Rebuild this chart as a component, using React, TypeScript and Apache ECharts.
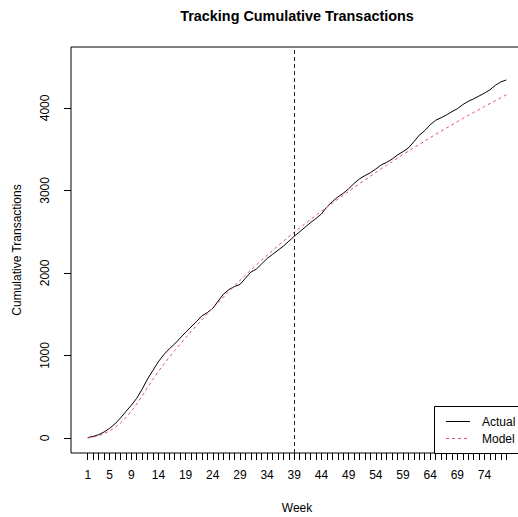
import React, { useEffect, useRef } from "react";
import * as echarts from "echarts";

const weeks: number[] = Array.from({ length: 78 }, (_, i) => i + 1);

const actualCum: number[] = [
  5, 18, 40, 72, 115, 170, 240, 320, 395, 480,
  590, 715, 820, 925, 1010, 1080, 1140, 1210, 1280, 1345,
  1410, 1480, 1520, 1570, 1660, 1745, 1800, 1835, 1860, 1935,
  2010, 2045, 2110, 2175, 2225, 2275, 2325, 2385, 2445, 2500,
  2555, 2610, 2660, 2715, 2800, 2865, 2920, 2965, 3020, 3085,
  3140, 3180, 3215, 3260, 3310, 3340, 3380, 3430, 3470, 3515,
  3590, 3670, 3725, 3795, 3850, 3880, 3915, 3955, 3990, 4040,
  4080, 4110, 4145, 4180, 4220, 4275, 4315, 4339,
];

const modelCum: number[] = [
  0, 10, 27, 52, 85, 127, 180, 245, 322, 410,
  508, 612, 712, 806, 894, 978, 1059, 1137, 1213, 1287,
  1360, 1432, 1503, 1573, 1642, 1710, 1777, 1843, 1908, 1972,
  2034, 2095, 2155, 2214, 2272, 2329, 2385, 2440, 2494, 2546,
  2597, 2648, 2698, 2748, 2797, 2846, 2894, 2942, 2989, 3036,
  3082, 3128, 3173, 3218, 3262, 3306, 3349, 3392, 3434, 3476,
  3517, 3558, 3599, 3639, 3679, 3718, 3757, 3795, 3833, 3871,
  3908, 3945, 3981, 4017, 4053, 4088, 4123, 4158,
];

const xLabelWeeks: number[] = [1, 5, 9, 14, 19, 24, 29, 34, 39, 44, 49, 54, 59, 64, 69, 74];
const yTickValues: number[] = [0, 1000, 2000, 3000, 4000];
const calibrationEndWeek = 39;

const FONT = "'Liberation Sans', Arial, Helvetica, sans-serif";

export default function App() {
  const ref = useRef<HTMLDivElement>(null);

  useEffect(() => {
    if (!ref.current) return;
    const chart = echarts.init(ref.current, null, { renderer: "svg" });
    const actualData = weeks.map((w, i) => [w, actualCum[i]]);
    const modelData = weeks.map((w, i) => [w, modelCum[i]]);
    chart.setOption({
      animation: false,
      backgroundColor: "#fff",
      textStyle: { fontFamily: FONT },
      grid: {
        show: true,
        left: 71,
        right: 7,
        top: 47,
        bottom: 64,
        borderColor: "#000",
        borderWidth: 1,
        backgroundColor: "transparent",
      },
      xAxis: {
        type: "value",
        min: -2.08,
        max: 81.08,
        axisLine: { show: false, onZero: false },
        splitLine: { show: false },
        axisTick: {
          show: true,
          length: 7,
          lineStyle: { color: "#000", width: 1 },
          customValues: weeks,
        },
        axisLabel: {
          show: true,
          color: "#000",
          fontSize: 12,
          fontFamily: FONT,
          margin: 16,
          customValues: xLabelWeeks,
          formatter: (v: number) => String(v),
        },
      },
      yAxis: {
        type: "value",
        min: -182.2,
        max: 4738.4,
        axisLine: { show: false, onZero: false },
        splitLine: { show: false },
        axisTick: {
          show: true,
          length: 7,
          lineStyle: { color: "#000", width: 1 },
          customValues: yTickValues,
        },
        axisLabel: {
          show: true,
          color: "#000",
          fontSize: 12,
          fontFamily: FONT,
          rotate: 90,
          margin: 20,
          customValues: yTickValues,
          formatter: (v: number) => String(v),
        },
      },
      series: [
        {
          name: "Actual",
          type: "line",
          data: actualData,
          showSymbol: false,
          symbol: "none",
          lineStyle: { color: "#000", width: 1 },
          markLine: {
            silent: true,
            symbol: ["none", "none"],
            label: { show: false },
            lineStyle: { color: "#222", width: 1, type: [4, 3] },
            data: [{ xAxis: calibrationEndWeek }],
          },
        },
        {
          name: "Model",
          type: "line",
          data: modelData,
          showSymbol: false,
          symbol: "none",
          lineStyle: { color: "#DF536B", width: 1, type: [3, 3] },
        },
      ],
      graphic: [
        {
          type: "text",
          x: 297,
          y: 16,
          style: {
            text: "Tracking Cumulative Transactions",
            fontSize: 14.4,
            fontWeight: "bold",
            fontFamily: FONT,
            fill: "#000",
            textAlign: "center",
            textVerticalAlign: "middle",
          },
        },
        {
          type: "text",
          x: 297,
          y: 508,
          style: {
            text: "Week",
            fontSize: 12,
            fontFamily: FONT,
            fill: "#000",
            textAlign: "center",
            textVerticalAlign: "middle",
          },
        },
        {
          type: "text",
          x: 17,
          y: 250,
          rotation: Math.PI / 2,
          style: {
            text: "Cumulative Transactions",
            fontSize: 12,
            fontFamily: FONT,
            fill: "#000",
            textAlign: "center",
            textVerticalAlign: "middle",
          },
        },
        {
          type: "group",
          z: 100,
          children: [
            {
              type: "rect",
              z: 100,
              shape: { x: 434.5, y: 406.5, width: 89, height: 47 },
              style: { fill: "#fff", stroke: "#000", lineWidth: 1 },
            },
            {
              type: "line",
              z: 101,
              shape: { x1: 446, y1: 421.5, x2: 470, y2: 421.5 },
              style: { stroke: "#000", lineWidth: 1 },
            },
            {
              type: "line",
              z: 101,
              shape: { x1: 446, y1: 438.5, x2: 470, y2: 438.5 },
              style: { stroke: "#DF536B", lineWidth: 1, lineDash: [3, 3] },
            },
            {
              type: "text",
              z: 101,
              x: 482,
              y: 421.5,
              style: {
                text: "Actual",
                fontSize: 12,
                fontFamily: FONT,
                fill: "#000",
                textAlign: "left",
                textVerticalAlign: "middle",
              },
            },
            {
              type: "text",
              z: 101,
              x: 482,
              y: 438.5,
              style: {
                text: "Model",
                fontSize: 12,
                fontFamily: FONT,
                fill: "#000",
                textAlign: "left",
                textVerticalAlign: "middle",
              },
            },
          ],
        },
      ],
    });
    return () => chart.dispose();
  }, []);

  return (
    <div
      style={{
        position: "fixed",
        left: 0,
        top: 0,
        width: 518,
        height: 517,
        overflow: "hidden",
        background: "#fff",
      }}
    >
      <div ref={ref} style={{ width: 530, height: 517 }} />
    </div>
  );
}
